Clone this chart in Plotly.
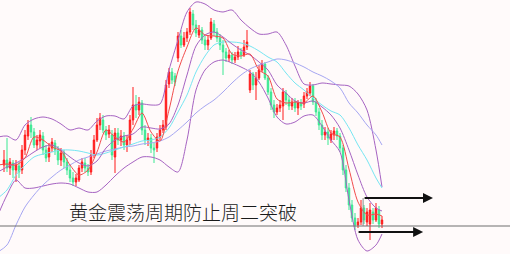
import plotly.graph_objects as go

# ---- candle data (bar index, prices) ----
open_ = [1335,1340,1332,1337,1330,1334,1330,1350,1364,1375,1368,1355,1359,1364,1350,1343,1352,1357,1350,1340,
         1347,1338,1330,1322,1318,1320,1332,1337,1332,1328,1345,1360,1375,1380,1370,1366,1365,1343,1367,1360,
         1364,1355,1360,1380,1395,1390,1397,1370,1360,1362,1352,1352,1363,1370,1373,1416,1428,1424,1442,1464,
         1455,1462,1468,1486,1475,1465,1470,1460,1455,1462,1476,1468,1462,1455,1448,1442,1445,1440,1443,1448,
         1445,1453,1410,1426,1415,1422,1430,1436,1422,1408,1395,1388,1392,1394,1407,1400,1394,1398,1392,1397,
         1396,1404,1407,1414,1398,1388,1375,1365,1368,1360,1365,1369,1364,1352,1330,1312,1295,1282,1275,1278,
         1292,1278,1276,1288,1280,1290,1276]
close = [1340,1332,1338,1330,1335,1328,1350,1365,1375,1368,1355,1360,1365,1350,1342,1352,1358,1350,1340,1347,
         1338,1330,1322,1318,1322,1332,1338,1332,1328,1345,1360,1375,1382,1370,1365,1370,1345,1367,1360,1364,
         1355,1360,1380,1395,1390,1398,1370,1360,1362,1352,1350,1363,1370,1375,1415,1428,1420,1418,1464,1455,
         1462,1468,1488,1475,1467,1470,1460,1455,1460,1478,1468,1462,1455,1448,1442,1445,1440,1443,1448,1445,
         1453,1458,1426,1415,1422,1430,1436,1422,1408,1395,1388,1392,1395,1408,1400,1394,1398,1392,1397,1394,
         1404,1408,1414,1398,1388,1375,1365,1368,1362,1366,1369,1364,1352,1330,1312,1295,1282,1275,1278,1292,
         1280,1288,1290,1280,1292,1276,1280]
high = [1350,1362,1342,1340,1340,1338,1355,1370,1380,1383,1372,1365,1370,1368,1355,1357,1362,1360,1354,1352,
        1350,1342,1335,1328,1326,1335,1342,1342,1336,1350,1365,1382,1387,1385,1374,1375,1370,1372,1372,1370,
        1368,1365,1385,1413,1405,1403,1400,1375,1367,1366,1357,1367,1375,1380,1420,1432,1432,1427,1468,1470,
        1468,1472,1492,1490,1480,1475,1473,1464,1465,1482,1480,1472,1466,1460,1452,1450,1448,1448,1454,1452,
        1460,1470,1430,1428,1428,1435,1440,1438,1425,1412,1400,1396,1400,1412,1410,1404,1402,1402,1400,1401,
        1408,1412,1418,1416,1402,1392,1380,1373,1372,1370,1373,1372,1367,1355,1335,1317,1300,1287,1282,1300,
        1295,1292,1297,1292,1297,1294,1284]
low = [1328,1328,1325,1322,1318,1322,1326,1345,1360,1362,1352,1350,1352,1345,1338,1338,1348,1345,1335,1334,
       1332,1325,1318,1314,1314,1318,1328,1328,1324,1325,1342,1358,1370,1367,1360,1362,1340,1327,1355,1354,
       1350,1348,1355,1375,1382,1385,1365,1355,1354,1347,1337,1348,1360,1367,1370,1412,1416,1414,1438,1452,
       1453,1458,1465,1470,1463,1462,1456,1450,1450,1460,1464,1458,1450,1425,1438,1438,1436,1437,1440,1441,
       1443,1450,1407,1410,1400,1420,1428,1420,1405,1390,1382,1385,1388,1380,1395,1390,1390,1388,1385,1390,
       1392,1401,1404,1395,1384,1370,1360,1360,1355,1357,1360,1360,1348,1325,1308,1290,1278,1270,1272,1275,
       1276,1274,1260,1276,1278,1272,1272]
bar_idx = list(range(len(close)))

# ---- indicator lines (sampled every 3 bars) ----
line_idx = [-2,1,4,7,10,13,16,19,22,25,28,31,34,37,40,43,46,49,52,55,58,61,64,67,70,73,76,79,82,85,88,91,94,97,
            100,103,106,109,112,115,118,121,124,126]
boll_upper = [1363,1364,1360,1375,1381,1383,1381,1376,1370,1372,1370,1379,1384,1384,1381,1394,1396,1395,1396,1430,
              1460,1488,1498,1496,1490,1488,1490,1480,1472,1466,1466,1468,1455,1434,1416,1415,1417,1416,1415,1414,
              1406,1390,1350,1313]
boll_mid = [1328,1333,1337,1342,1348,1353,1355,1350,1343,1337,1334,1339,1352,1360,1364,1366,1373,1372,1371,1376,
            1395,1425,1454,1465,1468,1463,1456,1450,1445,1438,1430,1415,1407,1399,1397,1399,1393,1385,1372,1350,
            1325,1303,1292,1289]
boll_lower = [1285,1305,1320,1312,1312,1314,1316,1317,1316,1312,1308,1308,1315,1324,1332,1338,1343,1343,1340,1333,
              1328,1360,1410,1430,1438,1440,1437,1433,1428,1418,1402,1383,1376,1378,1384,1385,1374,1360,1348,1300,
              1260,1249,1255,1266]
ma_fast = [1335,1336,1335,1342,1363,1360,1353,1349,1335,1325,1330,1348,1370,1363,1358,1371,1387,1368,1359,1390,
           1429,1453,1472,1465,1464,1462,1446,1444,1446,1430,1424,1401,1397,1398,1397,1404,1388,1367,1363,1331,
           1298,1285,1286,1284]
ma_mid = [1302,1310,1325,1335,1343,1346,1348,1350,1350,1349,1347,1345,1347,1350,1353,1356,1359,1360,1363,1372,
          1388,1405,1428,1444,1455,1458,1458,1457,1454,1449,1443,1438,1427,1417,1410,1402,1395,1389,1385,1372,
          1355,1340,1322,1312]
ma_slow = [1248,1255,1275,1293,1305,1315,1323,1330,1335,1340,1343,1346,1349,1351,1353,1354,1356,1357,1359,1363,
           1370,1378,1387,1394,1400,1408,1417,1425,1431,1435,1438,1441,1440,1437,1433,1428,1424,1419,1412,1397,
           1387,1375,1365,1355]

# ---- annotation levels ----
support_level = 1274
arrow_levels = [1302, 1268]
arrow_start = [119.7, 117.7]
arrow_end = [143.0, 139.7]
title_text = "黄金震荡周期防止周二突破"

RED = "#ff1a1a"
GREEN = "#3ae892"
PURPLE = "#a663c2"

fig = go.Figure()

for ys, col in [(boll_upper, PURPLE), (boll_lower, PURPLE), (ma_slow, "#a6a6f2"),
                (ma_mid, "#76e6f2"), (boll_mid, PURPLE), (ma_fast, "#f24c4c")]:
    fig.add_trace(go.Scatter(x=line_idx, y=ys, mode="lines",
                             line=dict(color=col, width=1, shape="spline", smoothing=0.8),
                             hoverinfo="skip", showlegend=False))

fig.add_trace(go.Candlestick(
    x=bar_idx, open=open_, high=high, low=low, close=close,
    increasing=dict(line=dict(color=RED, width=1), fillcolor=RED),
    decreasing=dict(line=dict(color=GREEN, width=1), fillcolor=GREEN),
    whiskerwidth=0, showlegend=False))

fig.add_trace(go.Scatter(x=[-2, 170], y=[support_level, support_level], mode="lines",
                         line=dict(color="#6e6e6e", width=1), hoverinfo="skip", showlegend=False))
fig.add_trace(go.Scatter(x=[arrow_start[0], arrow_start[0]], y=[arrow_levels[0], support_level], mode="lines",
                         line=dict(color="#8a8a8a", width=1), hoverinfo="skip", showlegend=False))

for lvl, x0, x1 in zip(arrow_levels, arrow_start, arrow_end):
    fig.add_annotation(x=x1, y=lvl, ax=x0, ay=lvl, xref="x", yref="y", axref="x", ayref="y",
                       text="", showarrow=True, arrowhead=2, arrowsize=1, arrowwidth=2,
                       arrowcolor="#111111")

fig.add_annotation(x=59.8, y=1289, xref="x", yref="y", text=title_text, showarrow=False,
                   font=dict(family="Noto Sans CJK SC", size=19, color="#1a1a1a", weight=300))

fig.update_layout(
    width=510, height=254, margin=dict(l=0, r=0, t=0, b=0),
    paper_bgcolor="#fffafa", plot_bgcolor="#fffafa",
    xaxis=dict(range=[-1.333, 168.667], visible=False, rangeslider=dict(visible=False), fixedrange=True),
    yaxis=dict(range=[1246, 1500], visible=False, fixedrange=True),
    showlegend=False,
)

fig.write_html("out.html")
